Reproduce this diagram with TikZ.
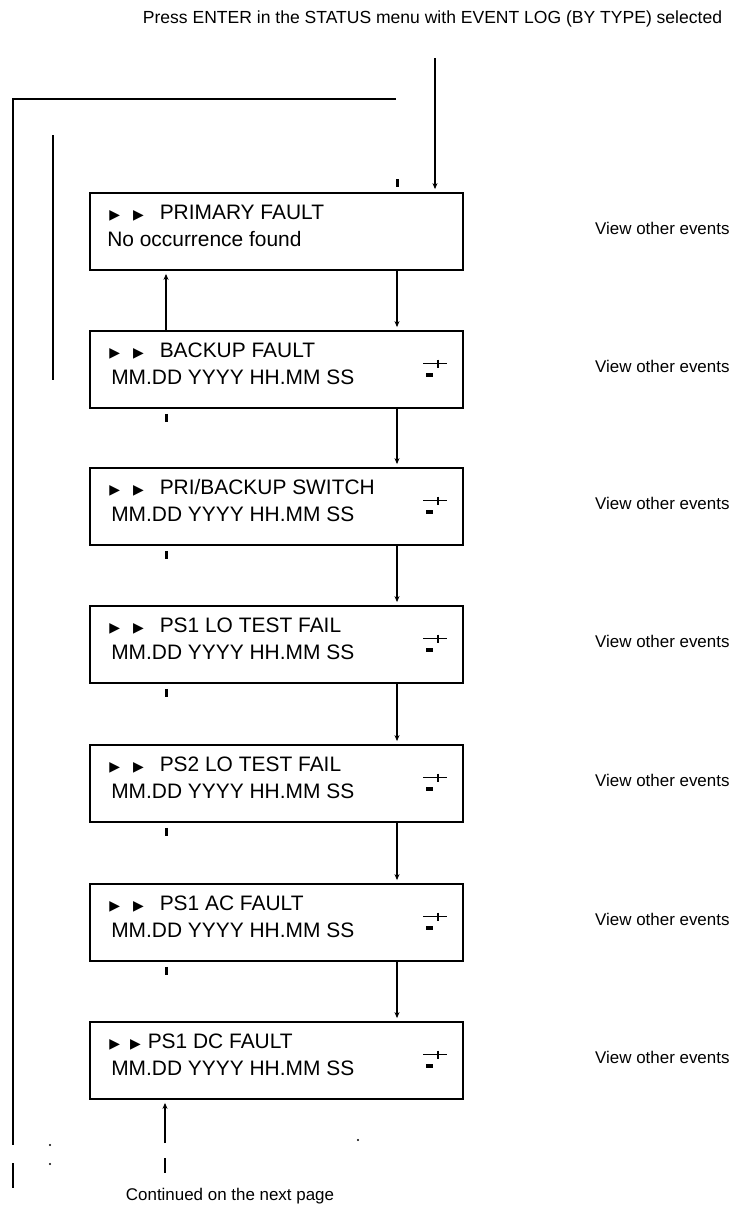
\documentclass[tikz,border=0pt]{standalone}
\usepackage{fontspec}
\setmainfont{Liberation Sans}
\newfontfamily\symf{DejaVu Sans}
\usetikzlibrary{arrows.meta,calc}
\newcommand{\tri}{{\symf\fontsize{14}{14}\selectfont ▶}}
\newcommand{\pre}{\tri\hspace{13bp}\tri\hspace{16bp}}
\tikzset{
  box/.style={draw, line width=1.8bp, minimum width=373bp, minimum height=77bp, inner sep=0pt},
  lbl/.style={anchor=base west, font=\fontsize{21}{21}\selectfont, inner sep=0pt},
  note/.style={font=\fontsize{17}{17}\selectfont, inner sep=0pt},
  conn/.style={line width=1.5bp},
  arr/.style={conn, -{Stealth[length=6bp,width=5bp]}, shorten >=3bp},
  stub/.style={line width=3bp},
  icon/.pic={
    \draw[line width=1.8bp] (-13,-6) -- (11,-6);
    \draw[line width=1.8bp] (2,-10) -- (2,-2);
    \fill (-10,3) rectangle (-3,7);
  }
}
\begin{document}
\begin{tikzpicture}[x=1bp,y=-1bp]
\useasboundingbox (0,0) rectangle (732,1209);

% boxes
\node[box] (b1) at (276.5,231.5) {};
\node[box] (b2) at (276.5,369.5) {};
\node[box] (b3) at (276.5,506.5) {};
\node[box] (b4) at (276.5,644.5) {};
\node[box] (b5) at (276.5,783.5) {};
\node[box] (b6) at (276.5,922.5) {};
\node[box] (b7) at (276.5,1060.5) {};

% texts
\node[lbl] (t1a) at ($(b1.north west)+(20,27)$) {\pre PRIMARY FAULT};
\node[lbl] (t1b) at ($(b1.north west)+(18,54)$) {No occurrence found};
\node[lbl] (t2a) at ($(b2.north west)+(20,27)$) {\pre BACKUP FAULT};
\node[lbl] (t2b) at ($(b2.north west)+(22,54)$) {MM.DD YYYY HH.MM SS};
\node[lbl] (t3a) at ($(b3.north west)+(20,27)$) {\pre PRI/BACKUP SWITCH};
\node[lbl] (t3b) at ($(b3.north west)+(22,54)$) {MM.DD YYYY HH.MM SS};
\node[lbl] (t4a) at ($(b4.north west)+(20,27)$) {\pre PS1 LO TEST FAIL};
\node[lbl] (t4b) at ($(b4.north west)+(22,54)$) {MM.DD YYYY HH.MM SS};
\node[lbl] (t5a) at ($(b5.north west)+(20,27)$) {\pre PS2 LO TEST FAIL};
\node[lbl] (t5b) at ($(b5.north west)+(22,54)$) {MM.DD YYYY HH.MM SS};
\node[lbl] (t6a) at ($(b6.north west)+(20,27)$) {\pre PS1 AC FAULT};
\node[lbl] (t6b) at ($(b6.north west)+(22,54)$) {MM.DD YYYY HH.MM SS};
\node[lbl] (t7a) at ($(b7.north west)+(20,27)$) {\tri\hspace{10bp}\tri\hspace{7bp}PS1 DC FAULT};
\node[lbl] (t7b) at ($(b7.north west)+(22,54)$) {MM.DD YYYY HH.MM SS};

% icons
\foreach \b in {b2,b3,b4,b5,b6,b7} { \pic at ($(\b.center)+(159.5,0)$) {icon}; }

% notes
\foreach \b in {b1,b2,b3,b4,b5,b6,b7} {
  \node[note, anchor=west] (v\b) at ($(\b.center)+(318.5,-3)$) {View other events};
}
\node[note, font=\fontsize{17.6}{17.6}\selectfont] (top) at (432.5,19) {Press ENTER in the STATUS menu with EVENT LOG (BY TYPE) selected};
\node[note] (cont) at (230,1196) {Continued on the next page};

% coordinates
\coordinate (r) at (397,0);
\coordinate (l) at (166,0);
\coordinate (start) at (435,58);
\coordinate (lt) at (396,99);
\coordinate (lc) at (13,99);
\coordinate (lb) at (13,1145);
\coordinate (lb2) at (13,1163);
\coordinate (lb3) at (13,1188);
\coordinate (in1) at (53,135);
\coordinate (in2) at (53,380);
\coordinate (bot) at (165,1143);
\coordinate (bot2) at (165,1158);
\coordinate (bot3) at (165,1173);

% connectors
\draw[arr] (start) -- (b1.north -| start);
\draw[arr] (b1.south -| r) -- (b2.north -| r);
\draw[arr] (b2.south -| r) -- (b3.north -| r);
\draw[arr] (b3.south -| r) -- (b4.north -| r);
\draw[arr] (b4.south -| r) -- (b5.north -| r);
\draw[arr] (b5.south -| r) -- (b6.north -| r);
\draw[arr] (b6.south -| r) -- (b7.north -| r);
\draw[arr] (b2.north -| l) -- (b1.south -| l);
\draw[arr] (bot) -- (b7.south -| bot);
\draw[conn] (bot2) -- (bot3);
\draw[conn] (lt) -- (lc) -- (lb);
\draw[conn] (lb2) -- (lb3);
\draw[conn] (in1) -- (in2);

% small stubs
\draw[stub] ($(b1.north -| r)+(0,-13)$) -- ($(b1.north -| r)+(0,-5)$);
\foreach \b in {b2,b3,b4,b5,b6} {
  \draw[stub] ($(\b.south -| l)+(0,5)$) -- ($(\b.south -| l)+(0,13)$);
}
% dots
\fill (50,1145) circle (1.2);
\fill (50,1164) circle (1.2);
\fill (358,1140) circle (1.2);
\end{tikzpicture}
\end{document}
